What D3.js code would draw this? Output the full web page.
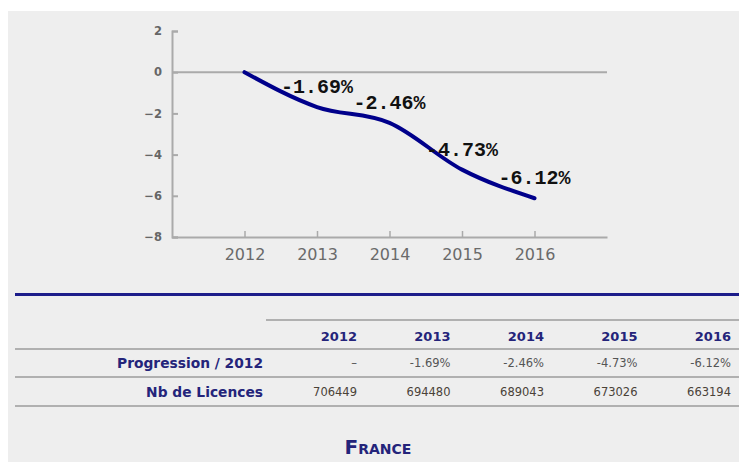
<!DOCTYPE html>
<html>
<head>
<meta charset="utf-8">
<script src="https://cdn.jsdelivr.net/npm/d3@7"></script>
<style>
  body { margin: 0; background: #fff; }
  svg { display: block; }
</style>
</head>
<body>
<svg id="chart" width="739" height="462"></svg>
<script>
// values
var years = ["2012", "2013", "2014", "2015", "2016"];
var progression = [0, -1.69, -2.46, -4.73, -6.12];
var licences = [706449, 694480, 689043, 673026, 663194];
var yTicks = [2, 0, -2, -4, -6, -8];
var rowLabels = ["Progression / 2012", "Nb de Licences"];
var title = "France";

var config = {
    width: 739,
    height: 462,
    plot: { left: 172, right: 607, top: 31, bottom: 237 },
    navy: "#00008b",
    grid: "#aaaaaa"
};

var svg = d3.select("#chart");

// grey panel
svg.append("rect")
    .attr("x", 8).attr("y", 11)
    .attr("width", config.width - 8).attr("height", config.height - 11)
    .attr("fill", "#eeeeee");

var x = d3.scalePoint()
    .domain(years)
    .range([config.plot.left, config.plot.right])
    .padding(1);

var y = d3.scaleLinear()
    .domain([-8, 2])
    .range([config.plot.bottom, config.plot.top]);

var points = years.map((yr, i) => ({ year: yr, value: progression[i] }));

// y axis
var yAxis = svg.append("g")
    .attr("transform", `translate(${config.plot.left},0)`)
    .call(d3.axisLeft(y).tickValues(yTicks).tickSize(-6).tickPadding(10));
yAxis.select(".domain").attr("stroke", config.grid).attr("stroke-width", 2);
yAxis.selectAll(".tick line").attr("stroke", config.grid).attr("stroke-width", 2);
yAxis.selectAll(".tick text")
    .attr("fill", "#666")
    .attr("font-family", "DejaVu Sans, Verdana, sans-serif")
    .attr("font-weight", "bold")
    .attr("font-size", 11.5);

// zero line
svg.append("line")
    .attr("x1", config.plot.left).attr("x2", config.plot.right)
    .attr("y1", y(0)).attr("y2", y(0))
    .attr("stroke", config.grid).attr("stroke-width", 2);

// x axis
var xAxis = svg.append("g")
    .attr("transform", `translate(0,${config.plot.bottom})`)
    .call(d3.axisBottom(x).tickSize(-6).tickPadding(12).tickSizeOuter(0));
xAxis.select(".domain").attr("stroke", config.grid).attr("stroke-width", 2);
xAxis.selectAll(".tick line").attr("stroke", config.grid).attr("stroke-width", 1.5);
xAxis.selectAll(".tick text")
    .attr("fill", "#6a6a6a")
    .attr("font-family", "DejaVu Sans, Verdana, sans-serif")
    .attr("font-size", 16);

// line
var line = d3.line()
    .x((d) => x(d.year))
    .y((d) => y(d.value))
    .curve(d3.curveMonotoneX);

svg.append("path")
    .datum(points)
    .attr("d", line)
    .attr("fill", "none")
    .attr("stroke", config.navy)
    .attr("stroke-width", 4)
    .attr("stroke-linecap", "round");

// value labels
svg.selectAll(".vlabel")
    .data(points.slice(1))
    .enter().append("text")
    .attr("class", "vlabel")
    .attr("x", (d) => x(d.year))
    .attr("y", (d) => y(d.value) - 14)
    .attr("text-anchor", "middle")
    .attr("font-family", "Liberation Mono, DejaVu Sans Mono, monospace")
    .attr("font-weight", "bold")
    .attr("font-size", 20)
    .attr("fill", "#111")
    .text((d) => d.value.toFixed(2) + "%");

// blue rule
svg.append("rect")
    .attr("x", 15).attr("y", 293)
    .attr("width", config.width - 15).attr("height", 3)
    .attr("fill", "#1c1c8a");

// table
var col = d3.scalePoint().domain(years).range([357, 731]);
var rowY = { head: 336, prog: 363, lic: 392 };
var tableFont = "DejaVu Sans, Verdana, sans-serif";

[[266, 320], [15, 349], [15, 377], [15, 406]].forEach((l) => {
    svg.append("line")
        .attr("x1", l[0]).attr("x2", config.width)
        .attr("y1", l[1]).attr("y2", l[1])
        .attr("stroke", "#b0b0b0").attr("stroke-width", 2);
});

svg.selectAll(".head")
    .data(years)
    .enter().append("text")
    .attr("x", (d) => col(d))
    .attr("y", rowY.head)
    .attr("dy", "0.35em")
    .attr("text-anchor", "end")
    .attr("font-family", tableFont)
    .attr("font-weight", "bold")
    .attr("font-size", 13)
    .attr("fill", "#24247a")
    .text((d) => d);

svg.selectAll(".rowlabel")
    .data(rowLabels)
    .enter().append("text")
    .attr("x", 263)
    .attr("y", (d, i) => i === 0 ? rowY.prog : rowY.lic)
    .attr("dy", "0.35em")
    .attr("text-anchor", "end")
    .attr("font-family", tableFont)
    .attr("font-weight", "bold")
    .attr("font-size", 13.8)
    .attr("fill", "#24247a")
    .text((d) => d);

svg.selectAll(".prog")
    .data(points)
    .enter().append("text")
    .attr("x", (d) => col(d.year))
    .attr("y", rowY.prog)
    .attr("dy", "0.35em")
    .attr("text-anchor", "end")
    .attr("font-family", tableFont)
    .attr("font-size", 11.5)
    .attr("fill", "#555")
    .text((d, i) => i === 0 ? "\u2013" : d.value.toFixed(2) + "%");

svg.selectAll(".lic")
    .data(licences)
    .enter().append("text")
    .attr("x", (d, i) => col(years[i]))
    .attr("y", rowY.lic)
    .attr("dy", "0.35em")
    .attr("text-anchor", "end")
    .attr("font-family", tableFont)
    .attr("font-size", 11.5)
    .attr("fill", "#4a4238")
    .text((d) => d);

// title
svg.append("text")
    .attr("x", 378)
    .attr("y", 454)
    .attr("text-anchor", "middle")
    .attr("font-family", "DejaVu Sans, Verdana, sans-serif")
    .attr("font-weight", "bold")
    .attr("font-size", 20)
    .attr("font-variant", "small-caps")
    .attr("fill", "#24247a")
    .text(title);
</script>
</body>
</html>
